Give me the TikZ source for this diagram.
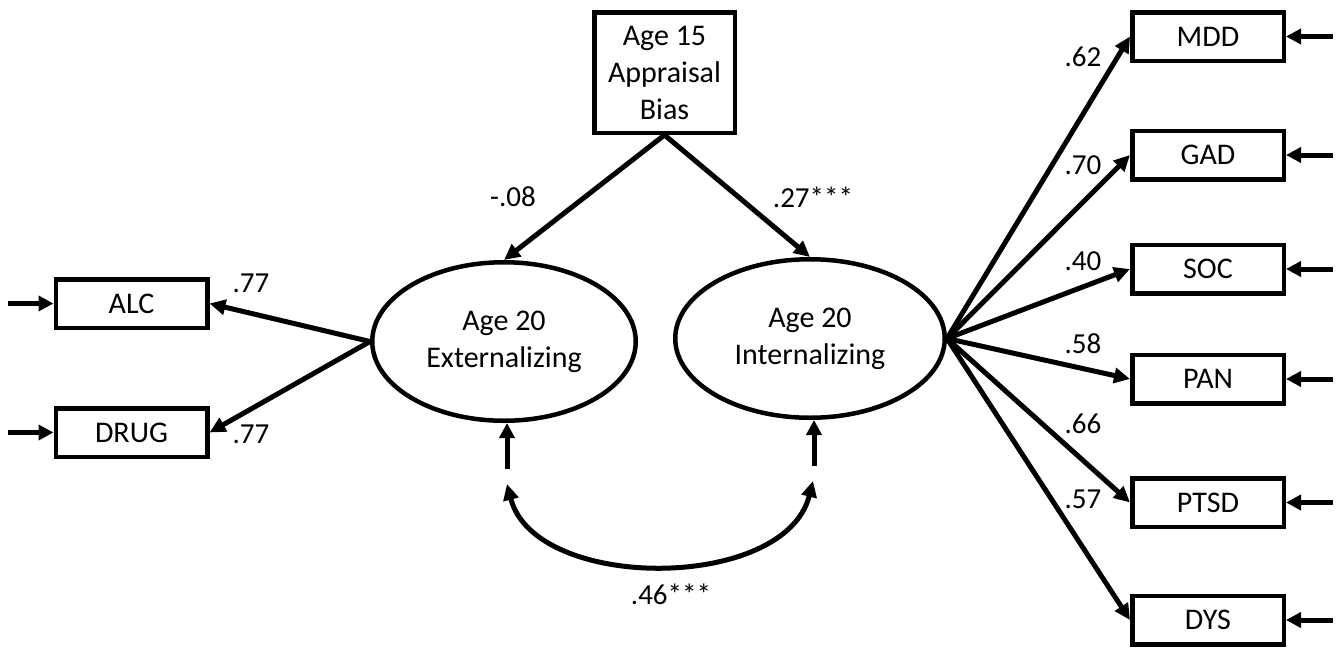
\documentclass[tikz,border=0pt]{standalone}
\usepackage{fontspec}
\setmainfont{Carlito}
\usetikzlibrary{arrows.meta,shapes.geometric}
\begin{document}
\begin{tikzpicture}[x=1pt,y=-1pt,
  txt/.style={font=\fontsize{30}{37}\selectfont},
  box/.style={draw, line width=4.5pt, minimum width=151.5pt, minimum height=48.5pt, inner sep=0pt, txt},
  lat/.style={draw, ellipse, line width=4.5pt, inner sep=0pt, align=center, txt},
  lbl/.style={inner sep=0pt, font=\fontsize{29}{32}\selectfont},
  arr/.style={line width=5pt, -{Triangle[length=16pt,width=15pt]}},
  darr/.style={line width=5pt, {Triangle[length=16pt,width=15pt]}-{Triangle[length=16pt,width=15pt]}},
  earr/.style={line width=5pt, -{Triangle[length=15pt,width=15pt]}}]
\useasboundingbox (0,0) rectangle (1342,648);
% nodes
\node[draw, line width=4.5pt, minimum width=140.5pt, minimum height=120.5pt, inner sep=0pt, align=center, txt] (a15) at (664.5,72.5) {Age 15\\Appraisal\\Bias};
\node[lat, minimum width=263.5pt, minimum height=158.5pt] (ext) at (504,341.5) {Age 20\\Externalizing};
\node[lat, minimum width=269.5pt, minimum height=158.5pt] (int) at (810,338.5) {Age 20\\Internalizing};
\node[box] (alc) at (131.5,303.5) {ALC};
\node[box] (drug) at (131.5,432.5) {DRUG};
\node[box] (mdd) at (1208,36.5) {MDD};
\node[box] (gad) at (1208,155) {GAD};
\node[box] (soc) at (1208,269) {SOC};
\node[box] (pan) at (1208,379) {PAN};
\node[box] (ptsd) at (1208,502.5) {PTSD};
\node[box] (dys) at (1208,620) {DYS};
% free-end coordinates
\coordinate (ealc) at (8,303.5);
\coordinate (edrug) at (8,432.5);
\coordinate (emdd) at (1333,36.5);
\coordinate (egad) at (1333,155);
\coordinate (esoc) at (1333,269);
\coordinate (epan) at (1333,379);
\coordinate (eptsd) at (1333,502.5);
\coordinate (edys) at (1333,620);
\coordinate (uext) at (507,469);
\coordinate (tuext) at (507,423);
\coordinate (uint) at (814,466);
\coordinate (tuint) at (814,420);
\coordinate (ca) at (507,484);
\coordinate (cb) at (813,481);
% structural paths
\draw[arr] (a15.south) -- (ext.north);
\draw[arr] (a15.south) -- (int.north);
\draw[arr] (ext.west) -- (alc.east);
\draw[arr] (ext.west) -- (drug.east);
\foreach \n in {mdd,gad,soc,pan,ptsd,dys}{
  \draw[arr] (int.east) -- (\n.west);
}
% error arrows
\draw[earr] (ealc) -- (alc.west);
\draw[earr] (edrug) -- (drug.west);
\foreach \n in {mdd,gad,soc,pan,ptsd,dys}{
  \draw[earr] (e\n) -- (\n.east);
}
\draw[earr] (uext) -- (tuext);
\draw[earr] (uint) -- (tuint);
% covariance
\draw[darr] (ca) .. controls (535,592) and (785,592) .. (cb);
% labels
\node[lbl] (l1) at (251,283) {.77};
\node[lbl] (l2) at (251,434) {.77};
\node[lbl] (l3) at (513,197) {-.08};
\node[lbl] (l4) at (813,197) {.27***};
\node[lbl] (l5) at (1083,57) {.62};
\node[lbl] (l6) at (1083,165) {.70};
\node[lbl] (l7) at (1083,261) {.40};
\node[lbl] (l8) at (1083,344) {.58};
\node[lbl] (l9) at (1083,424) {.66};
\node[lbl] (l10) at (1083,499) {.57};
\node[lbl] (l11) at (671,594) {.46***};
\end{tikzpicture}
\end{document}
